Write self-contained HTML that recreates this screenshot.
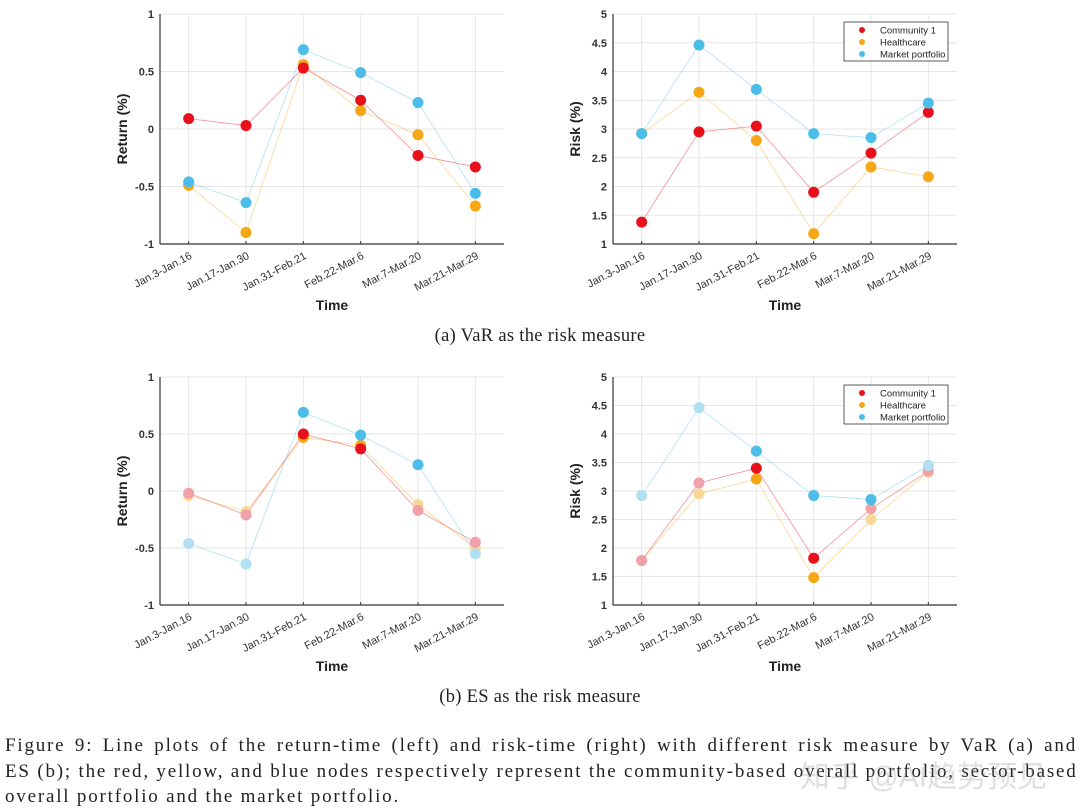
<!DOCTYPE html>
<html><head><meta charset="utf-8">
<style>
html,body{margin:0;padding:0;background:#fff;width:1080px;height:811px;overflow:hidden}
svg{position:absolute;left:0;top:0}
.cl{position:absolute;left:5px;width:1072px;font-family:"Liberation Serif",serif;font-size:19px;letter-spacing:1.8px;color:#222;white-space:nowrap;text-align:justify;text-align-last:justify}
.sub{position:absolute;left:0;width:1080px;text-align:center;font-family:"Liberation Serif",serif;font-size:18.5px;letter-spacing:0.3px;color:#222}
.wm{position:absolute;left:800px;top:752px;font-family:"Liberation Sans","Noto Sans CJK SC",sans-serif;font-size:30px;color:rgba(150,150,150,0.3)}
</style></head><body>
<svg id="fig" width="1080" height="811"></svg>
<div class="sub" style="top:326px">(a) VaR as the risk measure</div>
<div class="sub" style="top:687px">(b) ES as the risk measure</div>
<div>
<div class="cl" style="top:735px">Figure 9: Line plots of the return-time (left) and risk-time (right) with different risk measure by VaR (a) and</div>
<div class="cl" style="top:761px">ES (b); the red, yellow, and blue nodes respectively represent the community-based overall portfolio, sector-based</div>
<div class="cl" style="top:786px;text-align-last:left">overall portfolio and the market portfolio.</div>
</div>
<div class="wm">知乎 @AI趋势预见</div>
<script>
const categories=["Jan.3-Jan.16","Jan.17-Jan.30","Jan.31-Feb.21","Feb.22-Mar.6","Mar.7-Mar.20","Mar.21-Mar.29"];
const seriesNames=["Community 1","Healthcare","Market portfolio"];
// (a) VaR
const aRetRed=[0.09,0.03,0.53,0.25,-0.23,-0.33];
const aRetYel=[-0.49,-0.90,0.56,0.16,-0.05,-0.67];
const aRetBlu=[-0.46,-0.64,0.69,0.49,0.23,-0.56];
const aRiskRed=[1.38,2.95,3.05,1.90,2.58,3.29];
const aRiskYel=[2.92,3.64,2.80,1.18,2.34,2.17];
const aRiskBlu=[2.92,4.46,3.69,2.92,2.85,3.45];
// (b) ES
const bRetRed=[-0.02,-0.21,0.50,0.37,-0.17,-0.45];
const bRetYel=[-0.04,-0.18,0.47,0.40,-0.12,-0.50];
const bRetBlu=[-0.46,-0.64,0.69,0.49,0.23,-0.55];
const bRiskRed=[1.78,3.14,3.40,1.82,2.69,3.35];
const bRiskYel=[1.78,2.95,3.21,1.48,2.50,3.33];
const bRiskBlu=[2.92,4.46,3.70,2.92,2.85,3.45];
const aSolid=[1,1,1,1,1,1];
const bRetRedSolid=[0,0,1,1,0,0];
const bRetYelSolid=[0,0,1,1,0,0];
const bRetBluSolid=[0,0,1,1,1,0];
const bRiskRedSolid=[0,0,1,1,0,0];
const bRiskYelSolid=[0,0,1,1,0,0];
const bRiskBluSolid=[0,0,1,1,1,0];
const retTicks=["-1","-0.5","0","0.5","1"];
const riskTicks=["1","1.5","2","2.5","3","3.5","4","4.5","5"];

const NS="http://www.w3.org/2000/svg";
const svg=document.getElementById('fig');
const COL=["#e8101a","#f5a716","#4bbde8"];
const FADE=["#f0a0a8","#f8d898","#b0e0f2"];
function mk(t,a,p){const e=document.createElementNS(NS,t);for(const k in a)e.setAttribute(k,a[k]);(p||svg).appendChild(e);return e;}

function panel(id,x0,x1,yTop,yBot,ymin,ymax,ticks,ylab,series,solids,legend){
  const g=mk('g',{});
  
  
  const xs=i=>x0+(i+0.5)*(x1-x0)/categories.length;
  const ys=v=>yBot-(v-ymin)/(ymax-ymin)*(yBot-yTop);
  ticks.forEach(t=>{const y=ys(parseFloat(t));
    mk('line',{x1:x0,x2:x1,y1:y,y2:y,stroke:'#e6e6e6','stroke-width':1},g);
    const tl=mk('text',{x:x0-6,y:y+4,'text-anchor':'end','font-family':'Liberation Sans,sans-serif','font-size':11,'font-weight':'bold',fill:'#333'},g);
    tl.textContent=t;
    
    
  });
  categories.forEach((c,i)=>{const x=xs(i);
    mk('line',{x1:x,x2:x,y1:yTop,y2:yBot,stroke:'#e6e6e6','stroke-width':1},g);
    mk('line',{x1:x,x2:x,y1:yBot,y2:yBot-3,stroke:'#333','stroke-width':1},g);
    const tl=mk('text',{x:x+4,y:yBot+14,'text-anchor':'end','font-family':'Liberation Sans,sans-serif','font-size':11,fill:'#333',transform:`rotate(-28 ${x+4} ${yBot+14})`},g);
    tl.textContent=c;
    
    
  });
  mk('line',{x1:x0,x2:x0,y1:yTop,y2:yBot,stroke:'#333','stroke-width':1.2},g);
  mk('line',{x1:x0,x2:x1,y1:yBot,y2:yBot,stroke:'#333','stroke-width':1.2},g);
  const xl=mk('text',{x:(x0+x1)/2,y:yBot+66,'text-anchor':'middle','font-family':'Liberation Sans,sans-serif','font-size':14,'font-weight':'bold',fill:'#222'},g);
  xl.textContent='Time';
  
  
  const cy=(yTop+yBot)/2;
  const yl=mk('text',{x:x0-33,y:cy,'text-anchor':'middle','font-family':'Liberation Sans,sans-serif','font-size':14,'font-weight':'bold',fill:'#222',transform:`rotate(-90 ${x0-33} ${cy})`},g);
  yl.textContent=ylab;
  
  
  series.forEach((s,k)=>{
    const pl=mk('polyline',{points:s.map((v,i)=>xs(i)+','+ys(v)).join(' '),fill:'none',stroke:COL[k],'stroke-width':0.8,'stroke-opacity':0.45},g);
    
    
  });
  [1,0,2].forEach(k=>{
    series[k].forEach((v,i)=>{
      const c=mk('circle',{cx:xs(i),cy:ys(v),r:5.5,fill:solids[k][i]?COL[k]:FADE[k]},g);
      
      
    });
  });
  if(legend){
    const lx=x1-113,ly=yTop+8;
    const lg=mk('g',{},g);
    
    
    mk('rect',{x:lx,y:ly,width:104,height:39,fill:'#fff',stroke:'#333','stroke-width':0.8},lg);
    seriesNames.forEach((n,k)=>{
      mk('circle',{cx:lx+18,cy:ly+8+k*12,r:3,fill:COL[k]},lg);
      const t=mk('text',{x:lx+36,y:ly+11.5+k*12,'font-family':'Liberation Sans,sans-serif','font-size':9.5,fill:'#222'},lg);
      t.textContent=n;
      
      
    });
  }
}
const a6=[aSolid,aSolid,aSolid];
panel('return-chart-var',160,504,14,244,-1,1,retTicks,'Return (%)',[aRetRed,aRetYel,aRetBlu],a6,false);
panel('risk-chart-var',613,957,14,244,1,5,riskTicks,'Risk (%)',[aRiskRed,aRiskYel,aRiskBlu],a6,true);
panel('return-chart-es',160,504,377,605,-1,1,retTicks,'Return (%)',[bRetRed,bRetYel,bRetBlu],[bRetRedSolid,bRetYelSolid,bRetBluSolid],false);
panel('risk-chart-es',613,957,377,605,1,5,riskTicks,'Risk (%)',[bRiskRed,bRiskYel,bRiskBlu],[bRiskRedSolid,bRiskYelSolid,bRiskBluSolid],true);
</script>
</body></html>
